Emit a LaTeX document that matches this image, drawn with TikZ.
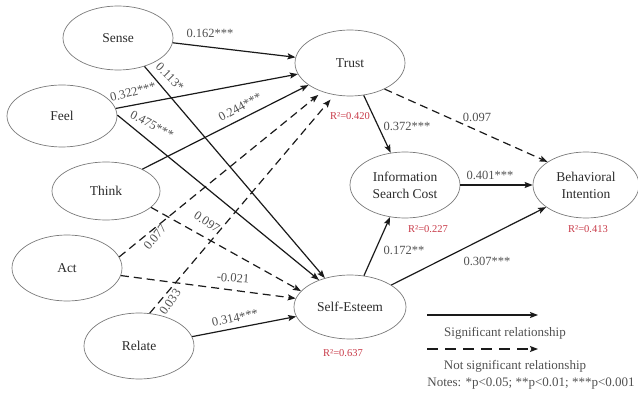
\documentclass[tikz,border=0pt]{standalone}
\usepackage{fontspec}
\setmainfont{Liberation Serif}
\usetikzlibrary{shapes.geometric,arrows.meta}
\definecolor{ellc}{HTML}{7A7A7A}
\definecolor{linec}{HTML}{1A1A1A}
\definecolor{lblc}{HTML}{505050}
\definecolor{txtc}{HTML}{2B2B2B}
\definecolor{redc}{HTML}{C83A48}
\begin{document}
\begin{tikzpicture}[x=1pt,y=-1pt,
  lat/.style={ellipse, draw=ellc, line width=0.7pt, minimum width=110pt, minimum height=64pt, inner sep=0pt, font=\fontsize{13.5}{17}\selectfont, text=txtc, align=center},
  sig/.style={draw=linec, line width=1.2pt, -{Stealth[length=8pt,width=6pt,inset=1.5pt]}},
  ns/.style={sig, dash pattern=on 8pt off 5pt},
  lbl/.style={font=\fontsize{12.5}{14}\selectfont, text=lblc, inner sep=0pt},
  rsq/.style={font=\fontsize{10.5}{12}\selectfont, text=redc, inner sep=0pt},
  legt/.style={font=\fontsize{13}{15}\selectfont, text=lblc, inner sep=0pt}]
\useasboundingbox (0,0) rectangle (638,401);
% latent variables
\node[lat] (sense) at (118,38) {Sense};
\node[lat, minimum height=62pt] (feel) at (62,116) {Feel};
\node[lat, minimum width=108pt, minimum height=58pt] (think) at (106,191) {Think};
\node[lat, minimum height=66pt] (act) at (67,268) {Act};
\node[lat, minimum height=66pt] (relate) at (139,346) {Relate};
\node[lat, minimum height=66pt] (trust) at (350,63) {Trust};
\node[lat, minimum height=66pt] (isc) at (405,185) {Information\\Search Cost};
\node[lat, minimum width=106pt, minimum height=66pt] (bi) at (586,185) {Behavioral\\Intention};
\node[lat, minimum width=112pt] (se) at (350,307) {Self-Esteem};
% paths
\draw[sig] (sense.-5) -- (trust.174);
\draw[sig] (sense.-47) -- (se.131);
\draw[sig] (feel.8) -- (trust.-168);
\draw[sig] (feel.1) -- (se.139);
\draw[sig] (think.31) -- (trust.-152);
\draw[ns] (think.-20) -- (se.162);
\draw[ns, shorten >=5pt] (act.12) -- (trust.-134);
\draw[ns] (act.-8) -- (se.171);
\draw[ns, shorten >=6pt] (relate.72) -- (trust.-116);
\draw[sig] (relate.10) -- (se.-170);
\draw[sig] (trust.-67) -- (isc.114);
\draw[ns] (trust.-37) -- (bi.149);
\draw[sig] (isc.0) -- (bi.180);
\draw[sig] (se.66) -- (isc.-115);
\draw[sig] (se.28) -- (bi.-151);
% coefficients
\node[lbl] (c1) at (210,33) {0.162***};
\node[lbl, rotate=-45] (c2) at (170,77) {0.113*};
\node[lbl, rotate=15] (c3) at (133,92) {0.322***};
\node[lbl, rotate=-28] (c4) at (152,125) {0.475***};
\node[lbl, rotate=29] (c5) at (240,107) {0.244***};
\node[lbl, rotate=-34] (c6) at (207,222) {0.097};
\node[lbl, rotate=50] (c7) at (155,237) {0.077};
\node[lbl, rotate=-5] (c8) at (233,278) {-0.021};
\node[lbl, rotate=55] (c9) at (170,302) {0.033};
\node[lbl, rotate=12] (c10) at (235,318) {0.314***};
\node[lbl] (c11) at (407,126) {0.372***};
\node[lbl] (c12) at (477,117) {0.097};
\node[lbl] (c13) at (490,175) {0.401***};
\node[lbl] (c14) at (404,250) {0.172**};
\node[lbl] (c15) at (487,261) {0.307***};
% R squared
\node[rsq] (r1) at (350,116) {R²=0.420};
\node[rsq] (r2) at (428,229) {R²=0.227};
\node[rsq] (r3) at (588,229) {R²=0.413};
\node[rsq] (r4) at (343,353) {R²=0.637};
% legend
\coordinate (ls1) at (427,315); \coordinate (ls2) at (538,315);
\draw[sig] (ls1) -- (ls2);
\node[legt] (lt1) at (505,333) {Significant relationship};
\coordinate (ln1) at (427,349); \coordinate (ln2) at (538,349);
\draw[ns, dash pattern=on 11pt off 7pt] (ln1) -- (ln2);
\node[legt] (lt2) at (515,366) {Not significant relationship};
\node[legt] (lt3) at (531,384) {Notes: *p<0.05; **p<0.01; ***p<0.001};
\end{tikzpicture}
\end{document}
